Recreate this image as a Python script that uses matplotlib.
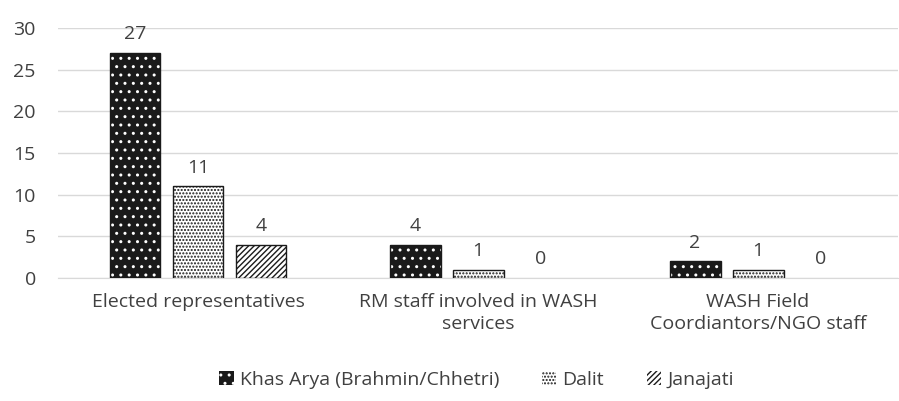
import numpy as np
import matplotlib.pyplot as plt
from matplotlib.patches import Patch

# ================= DATA =================
categories = [
    "Elected representatives",
    "RM staff involved in WASH\nservices",
    "WASH Field\nCoordiantors/NGO staff",
]
series_names = ["Khas Arya (Brahmin/Chhetri)", "Dalit", "Janajati"]
khas_arya = [27, 4, 2]
dalit = [11, 1, 1]
janajati = [4, 0, 0]

plt.rcParams["font.family"] = ["Open Sans", "DejaVu Sans"]
plt.rcParams["hatch.linewidth"] = 1.0
text_color = "#404040"
fs = 14

fig = plt.figure(figsize=(8.99, 4.01), dpi=100)
ax = fig.add_axes([0.0645, 0.307, 0.9345, 0.623])

x = np.arange(len(categories))
width = 0.182
step = 0.225

# face, hatch colour, hatch pattern
styles = [
    ("#1a1a1a", "white", ".."),
    ("white", "#1a1a1a", "....."),
    ("white", "#1a1a1a", "//////"),
]
all_values = [khas_arya, dalit, janajati]

for i, (vals, (face, hcol, hatch)) in enumerate(zip(all_values, styles)):
    pos = x + (i - 1) * step
    # fill + hatch
    ax.bar(pos, vals, width, color=face, edgecolor=hcol, hatch=hatch,
           linewidth=0, zorder=3)
    # outline, only for non-zero bars
    for p, v in zip(pos, vals):
        if v > 0:
            ax.bar(p, v, width, fill=False, edgecolor="#1a1a1a",
                   linewidth=1.0, zorder=4)
        ax.annotate(str(v), (p, v), xytext=(0, 7), textcoords="offset points",
                    ha="center", va="bottom", fontsize=fs, color=text_color)

ax.set_ylim(0, 30)
ax.set_yticks(range(0, 31, 5))
ax.set_xlim(-0.5, 2.5)
ax.set_xticks(x)
ax.set_xticklabels(categories, fontsize=fs, color=text_color, linespacing=1.3)
ax.tick_params(axis="y", labelsize=fs, colors=text_color, length=0, pad=16)
ax.tick_params(axis="x", length=0, pad=11)
ax.grid(axis="y", color="#d9d9d9", linewidth=1, zorder=0)
for s in ["top", "right", "left"]:
    ax.spines[s].set_visible(False)
ax.spines["bottom"].set_color("#d9d9d9")

handles = [
    Patch(facecolor=f, edgecolor=h, hatch=ht, linewidth=0)
    for f, h, ht in styles
]
leg = fig.legend(handles, series_names, loc="center", bbox_to_anchor=(0.53, 0.052),
                 ncol=3, frameon=False, fontsize=fs, handlelength=0.75,
                 handleheight=0.75, columnspacing=2.2, handletextpad=0.3)
for t in leg.get_texts():
    t.set_color(text_color)

fig.savefig("out.png", dpi=100)
